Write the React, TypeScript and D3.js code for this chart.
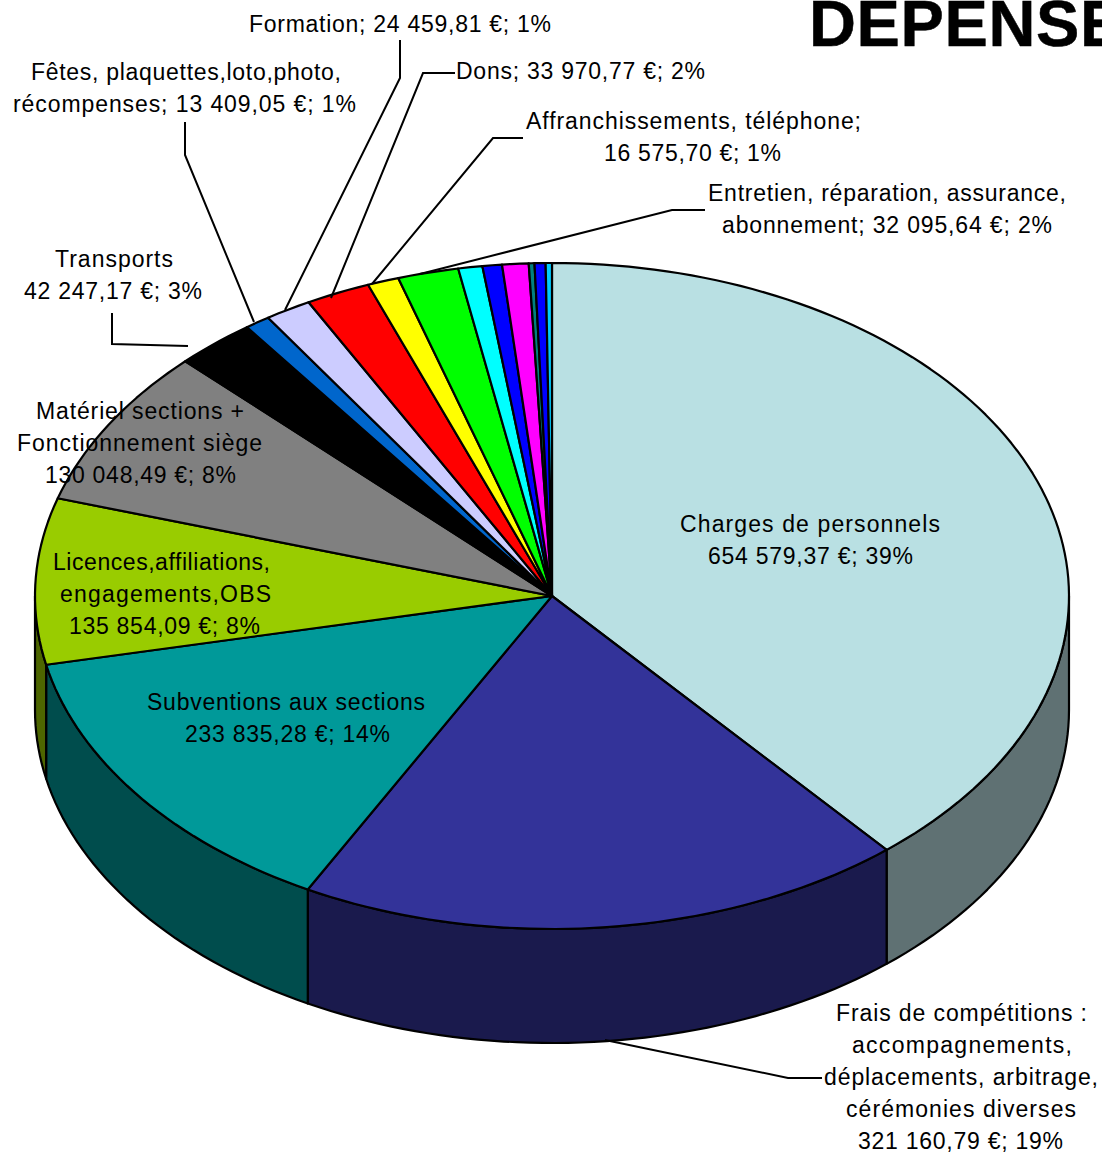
import React from "react";
import * as d3 from "d3";

const categories = ["Charges de personnels","Frais de compétitions","Subventions aux sections","Licences,affiliations,engagements,OBS","Matériel sections + Fonctionnement siège","Transports","Fêtes, plaquettes,loto,photo, récompenses","Formation","Dons","Affranchissements, téléphone","Entretien, réparation, assurance, abonnement","Autre 1","Autre 2","Autre 3","Autre 4","Autre 5","Autre 6"];
const values = [654579.37,321160.79,233835.28,135854.09,130048.49,42247.17,13409.05,24459.81,33970.77,16575.70,32095.64,12700,10300,13900,3000,5800,3300];
const topColors = ["#b9e0e3","#333399","#009999","#99cc00","#808080","#000000","#0066cc","#ccccff","#ff0000","#ffff00","#00ff00","#00ffff","#0000ff","#ff00ff","#008080","#0000ff","#00ccff"];
const wallColors = ["#5f7173","#1a1a4d","#004d4d","#4d6600"];

const labelLines: {y:number,lines:[string,number,number][]}[] = [
  {y:532,lines:[["Charges de personnels",680,940],["654 579,37 €; 39%",708,913]]},
  {y:1021,lines:[["Frais de compétitions :",836,1087],["accompagnements,",852,1072],["déplacements, arbitrage,",824,1098],["cérémonies diverses",846,1076],["321 160,79 €; 19%",858,1063]]},
  {y:710,lines:[["Subventions aux sections",147,425],["233 835,28 €; 14%",185,390]]},
  {y:570,lines:[["Licences,affiliations,",53,270],["engagements,OBS",60,271],["135 854,09 €; 8%",69,260]]},
  {y:419,lines:[["Matériel sections +",36,244],["Fonctionnement siège",17,262],["130 048,49 €; 8%",45,236]]},
  {y:267,lines:[["Transports",55,173],["42 247,17 €; 3%",24,202]]},
  {y:80,lines:[["Fêtes, plaquettes,loto,photo,",31,341],["récompenses; 13 409,05 €; 1%",13,356]]},
  {y:32,lines:[["Formation; 24 459,81 €; 1%",249,551]]},
  {y:79,lines:[["Dons; 33 970,77 €; 2%",456,705]]},
  {y:129,lines:[["Affranchissements, téléphone;",526,861],["16 575,70 €; 1%",604,781]]},
  {y:201,lines:[["Entretien, réparation, assurance,",708,1066],["abonnement; 32 095,64 €; 2%",722,1052]]},
];
const leaders: [number,number][][] = [
  [[822,1078],[788,1078],[605,1040]],
  [[112,313],[112,344],[188,346]],
  [[185,122],[185,155],[254,322]],
  [[400,40],[400,78],[285,310]],
  [[455,73],[423,73],[331,298]],
  [[523,138],[493,138],[372,284]],
  [[705,210],[672,210],[420,274]],
];

const cx = 552, cy = 596, rx = 517, ry = 333, depth = 114;
const px = (a:number) => cx + rx*Math.sin(a);
const py = (a:number) => cy - ry*Math.cos(a);
const arcPts = (a0:number,a1:number,dy=0) => {
  const n = Math.max(2, Math.ceil(Math.abs(a1-a0)*40));
  return d3.range(n+1).map(i => { const a = a0+(a1-a0)*i/n; return [px(a),py(a)+dy] as [number,number]; });
};
const line = d3.line();

export default function App(){
  const arcs = d3.pie<number>().sort(null).startAngle(0).endAngle(2*Math.PI)(values);
  const stroke = {stroke:"#000",strokeWidth:2.2,strokeLinejoin:"round" as const};
  const walls = arcs.map((d,i)=>{
    const a0 = Math.max(d.startAngle, Math.PI/2), a1 = Math.min(d.endAngle, 3*Math.PI/2);
    if(a1<=a0) return null;
    const top = arcPts(a0,a1), bot = arcPts(a1,a0,depth);
    return <path key={i} d={line([...top,...bot])+"Z"} fill={wallColors[i]} {...stroke}/>;
  });
  return (
    <svg width={1102} height={1152} style={{position:"absolute",left:0,top:0}} fontFamily="'Liberation Sans',Arial,sans-serif">
      <text x={809} y={46} fontSize={65} fontWeight="bold" fill="#000" letterSpacing={0.6} stroke="#000" strokeWidth={0.5}>DEPENSES</text>
      {walls}
      {arcs.map((d,i)=>(
        <path key={i} d={line([[cx,cy],...arcPts(d.startAngle,d.endAngle)])+"Z"} fill={topColors[i]} {...stroke}/>
      ))}
      {leaders.map((l,i)=><path key={i} d={line(l)!} fill="none" stroke="#000" strokeWidth={2}/>)}
      {labelLines.map((l,i)=>l.lines.map(([t,x0,x1],j)=>(
        <text key={i+"-"+j} x={x0} y={l.y+j*32} fontSize={23} fill="#000" textLength={x1-x0} lengthAdjust="spacing">{t}</text>
      )))}
    </svg>
  );
}
